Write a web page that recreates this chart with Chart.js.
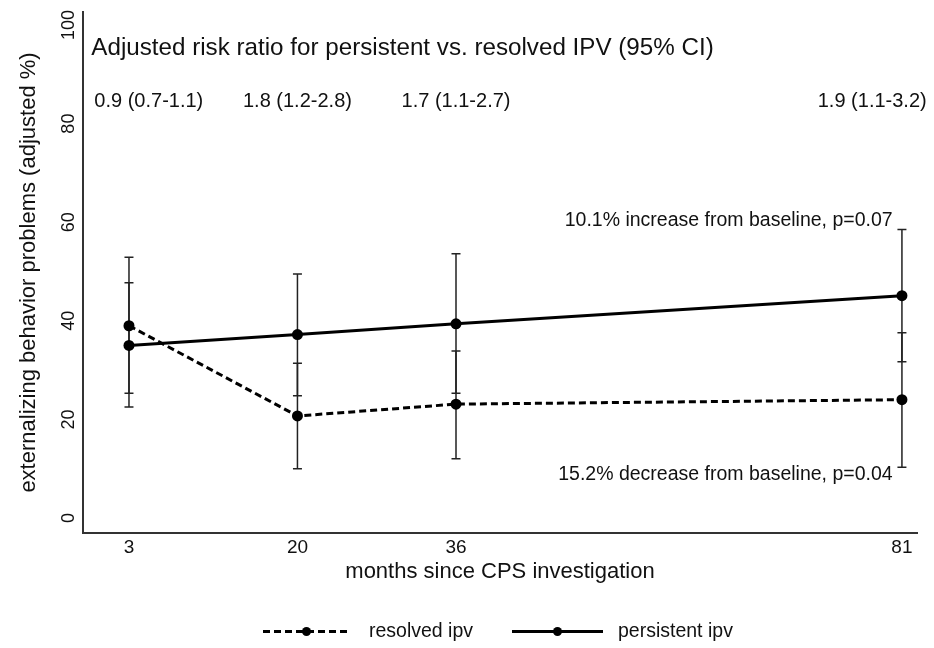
<!DOCTYPE html>
<html>
<head>
<meta charset="utf-8">
<script src="https://cdn.jsdelivr.net/npm/chart.js@4/dist/chart.umd.min.js"></script>
<style>
  html, body { margin: 0; padding: 0; background: #ffffff; }
  #wrap { width: 934px; height: 648px; position: relative; }
</style>
</head>
<body>
<div id="wrap"><canvas id="c"></canvas></div>
<script>
// ---- data ----
const months = [3, 20, 36, 81];
const xTickValues = [3, 20, 36, 81];
const yTickValues = [0, 20, 40, 60, 80, 100];

const resolved     = [39.0, 20.7, 23.1, 24.0];
const resolvedLo   = [25.3, 10.0, 12.0, 10.3];
const resolvedHi   = [52.9, 31.4, 33.9, 37.6];

const persistent   = [35.0, 37.2, 39.4, 45.1];
const persistentLo = [22.5, 24.8, 25.3, 31.7];
const persistentHi = [47.7, 49.5, 53.6, 58.5];

const seriesNames = ['resolved ipv', 'persistent ipv'];
const headerText = 'Adjusted risk ratio for persistent vs. resolved IPV (95% CI)';
const riskRatioLabels = ['0.9 (0.7-1.1)', '1.8 (1.2-2.8)', '1.7 (1.1-2.7)', '1.9 (1.1-3.2)'];
const changeNotes = ['10.1% increase from baseline, p=0.07', '15.2% decrease from baseline, p=0.04'];
const xTitle = 'months since CPS investigation';
const yTitle = 'externalizing behavior problems (adjusted %)';

// ---- layout anchors (data coordinates) ----
const riskRatioAnchorX = [5.0, 20, 36, 78.0];
const riskRatioAnchorY = 84.5;
const headerAnchor = { x: -0.8, y: 95.3 };
const noteAnchors = [{ x: 80.06, y: 60.4 }, { x: 80.06, y: 8.7 }];

const FONT = '"Liberation Sans", Arial, Helvetica, sans-serif';
const TEXT = '#111111';

const toXY = (ys) => months.map((m, i) => ({ x: m, y: ys[i] }));

const errorBars = {
  id: 'errorBars',
  beforeDatasetsDraw(chart) {
    const { ctx, scales: { x, y } } = chart;
    const sets = [[resolvedLo, resolvedHi], [persistentLo, persistentHi]];
    ctx.save();
    ctx.strokeStyle = '#222222';
    ctx.lineWidth = 1.5;
    sets.forEach(([lo, hi]) => {
      months.forEach((m, i) => {
        const px = x.getPixelForValue(m);
        const pl = y.getPixelForValue(lo[i]);
        const ph = y.getPixelForValue(hi[i]);
        ctx.beginPath();
        ctx.moveTo(px, pl); ctx.lineTo(px, ph);
        ctx.moveTo(px - 4.5, pl); ctx.lineTo(px + 4.5, pl);
        ctx.moveTo(px - 4.5, ph); ctx.lineTo(px + 4.5, ph);
        ctx.stroke();
      });
    });
    ctx.restore();
  }
};

const textNotes = {
  id: 'textNotes',
  afterDraw(chart) {
    const { ctx, scales: { x, y } } = chart;
    ctx.save();
    ctx.fillStyle = TEXT;
    ctx.textBaseline = 'middle';
    ctx.font = '24.2px ' + FONT;
    ctx.textAlign = 'left';
    ctx.fillText(headerText, x.getPixelForValue(headerAnchor.x), y.getPixelForValue(headerAnchor.y));
    ctx.font = '20px ' + FONT;
    ctx.textAlign = 'center';
    riskRatioLabels.forEach((t, i) => {
      ctx.fillText(t, x.getPixelForValue(riskRatioAnchorX[i]), y.getPixelForValue(riskRatioAnchorY));
    });
    ctx.font = '19.5px ' + FONT;
    ctx.textAlign = 'right';
    changeNotes.forEach((t, i) => {
      ctx.fillText(t, x.getPixelForValue(noteAnchors[i].x), y.getPixelForValue(noteAnchors[i].y));
    });
    ctx.restore();
  }
};

const customLegend = {
  id: 'customLegend',
  afterDraw(chart) {
    const { ctx } = chart;
    const yy = 631.5;
    const items = [
      { x0: 263, x1: 350, dash: [7, 4], tx: 369, label: seriesNames[0] },
      { x0: 512, x1: 603, dash: [], tx: 618, label: seriesNames[1] }
    ];
    ctx.save();
    items.forEach(it => {
      ctx.strokeStyle = '#000000';
      ctx.lineWidth = 3;
      ctx.setLineDash(it.dash);
      ctx.beginPath();
      ctx.moveTo(it.x0, yy); ctx.lineTo(it.x1, yy);
      ctx.stroke();
      ctx.setLineDash([]);
      ctx.fillStyle = '#000000';
      ctx.beginPath();
      ctx.arc((it.x0 + it.x1) / 2, yy, 4.5, 0, Math.PI * 2);
      ctx.fill();
      ctx.fillStyle = TEXT;
      ctx.font = '19.5px ' + FONT;
      ctx.textAlign = 'left';
      ctx.textBaseline = 'middle';
      ctx.fillText(it.label, it.tx, yy);
    });
    ctx.restore();
  }
};

new Chart(document.getElementById('c'), {
  type: 'line',
  data: {
    datasets: [
      {
        label: seriesNames[0],
        data: toXY(resolved),
        borderColor: '#000000',
        backgroundColor: '#000000',
        borderWidth: 3,
        borderDash: [7, 4],
        pointRadius: 5.5,
        pointBorderWidth: 0,
        pointBackgroundColor: '#000000',
        tension: 0
      },
      {
        label: seriesNames[1],
        data: toXY(persistent),
        borderColor: '#000000',
        backgroundColor: '#000000',
        borderWidth: 3,
        pointRadius: 5.5,
        pointBorderWidth: 0,
        pointBackgroundColor: '#000000',
        tension: 0
      }
    ]
  },
  options: {
    responsive: true,
    maintainAspectRatio: false,
    animation: false,
    layout: { padding: { top: 12, right: 17, left: 0, bottom: 0 } },
    plugins: {
      legend: { display: false },
      tooltip: { enabled: false }
    },
    scales: {
      x: {
        type: 'linear',
        min: -1.64,
        max: 82.52,
        afterBuildTicks: (s) => { s.ticks = xTickValues.map(v => ({ value: v })); },
        afterFit: (s) => { s.height = 115; },
        grid: { display: false, drawTicks: false },
        border: { display: true, color: '#333333', width: 2 },
        ticks: {
          autoSkip: false,
          maxRotation: 0,
          padding: 3,
          color: TEXT,
          font: { family: FONT, size: 19 },
          callback: (v) => String(v)
        },
        title: {
          display: true,
          text: xTitle,
          color: TEXT,
          font: { family: FONT, size: 22 },
          padding: { top: 0, bottom: 63 }
        }
      },
      y: {
        type: 'linear',
        min: -3.04,
        max: 102.64,
        afterBuildTicks: (s) => { s.ticks = yTickValues.map(v => ({ value: v })); },
        afterFit: (s) => { s.width = 83; },
        grid: { display: false, drawTicks: false },
        border: { display: true, color: '#333333', width: 2 },
        ticks: {
          autoSkip: false,
          minRotation: 90,
          maxRotation: 90,
          crossAlign: 'center',
          padding: -1.5,
          color: TEXT,
          font: { family: FONT, size: 18 },
          callback: (v) => String(v)
        },
        title: {
          display: true,
          text: yTitle,
          color: TEXT,
          font: { family: FONT, size: 22 },
          padding: { top: 16, bottom: 0 }
        }
      }
    }
  },
  plugins: [errorBars, textNotes, customLegend]
});
</script>
</body>
</html>
